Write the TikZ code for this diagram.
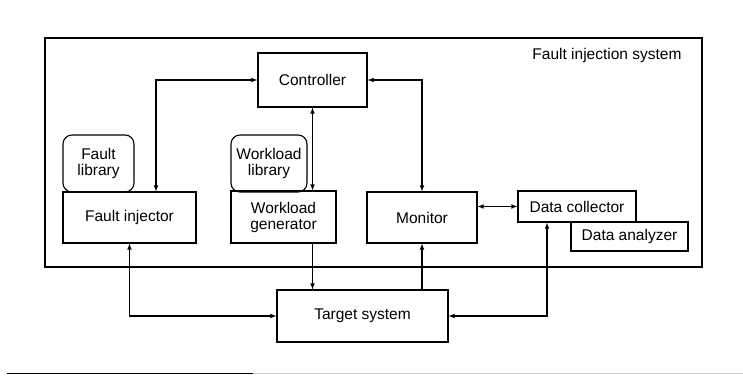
\documentclass[tikz,border=0pt]{standalone}
\usepackage{fontspec}
\setmainfont{Liberation Sans}
\usetikzlibrary{positioning}

\begin{document}
\begin{tikzpicture}[x=1pt, y=-1pt, >=latex, line width=1.1pt,
        every node/.style={font=\fontsize{15.5}{16}\selectfont, align=center, inner sep=1pt},
        block/.style={draw, rectangle},
        lib/.style={draw, rectangle, rounded corners=9pt}]
        \useasboundingbox (0,0) rectangle (743,375);
        % outer frame
        \draw[line width=1.2pt] (45,38) rectangle (702,267);
        \node (fislabel) at (607,55) {Fault injection system};

        \node (ctrl) [block, minimum width=109pt, minimum height=54pt] at (312.5,80) {Controller};
        \node (flib) [lib, minimum width=71pt, minimum height=57pt] at (98.5,163.5) {Fault\\library};
        \node (finj) [block, minimum width=133pt, minimum height=51pt] at (129.5,217.5) {Fault injector};
        \node (wlib) [lib, minimum width=76pt, minimum height=57pt] at (269,163.5) {Workload\\library};
        \node (wgen) [block, minimum width=105pt, minimum height=52pt] at (283.5,217) {Workload\\generator};
        \node (mon) [block, minimum width=110pt, minimum height=51pt] at (422,217.5) {Monitor};
        \node (dcol) [block, minimum width=118pt, minimum height=31pt] at (577,206.5) {Data collector};
        \node (dana) [block, minimum width=117pt, minimum height=29pt] at (629.5,236.5) {Data analyzer};
        \node (tgt) [block, minimum width=171pt, minimum height=52pt] at (362.5,316) {Target system};

        \draw[<->] ([xshift=26.5pt]finj.north) |- (ctrl.west);
        \draw[<->] (ctrl.south) -- (ctrl.south |- wgen.north);
        \draw[<->] (ctrl.east) -| (mon.north);
        \draw[<->] (mon.east |- dcol.west) -- (dcol.west);
        \draw[->] (ctrl.south |- wgen.south) -- (ctrl.south |- tgt.north);
        \draw[->] (mon.south |- tgt.north) -- (mon.south);
        \draw[<->] (finj.south) |- (tgt.west);
        \draw[<->] ([xshift=-30pt]dcol.south) |- (tgt.east);

        % rule under the figure
        \draw[line width=0.8pt] (7,373.8) -- (253,373.8);
        \draw[line width=0.8pt, gray!40] (253,373.8) -- (743,373.8);
    \end{tikzpicture}
\end{document}
